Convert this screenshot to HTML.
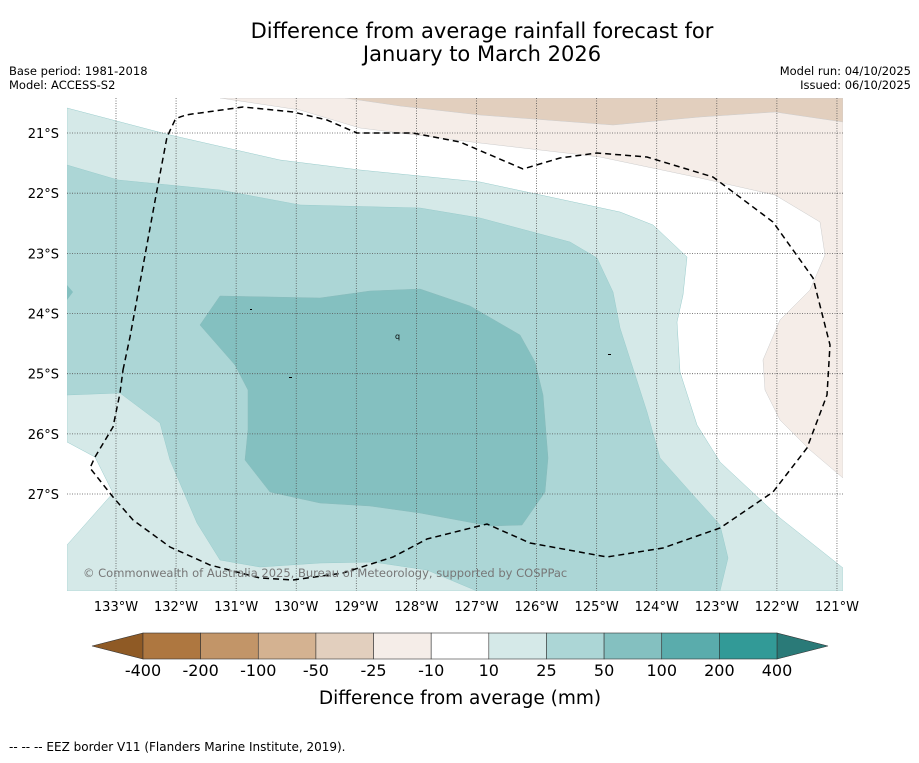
<!DOCTYPE html>
<html><head><meta charset="utf-8"><style>
body{margin:0;background:#fff;font-family:"Liberation Sans","DejaVu Sans",sans-serif;}
svg text{font-family:"DejaVu Sans","Liberation Sans",sans-serif;}
</style></head><body>
<svg id="s" width="919" height="758" viewBox="0 0 919 758">
<rect width="919" height="758" fill="#fff"/>
<text x="482" y="38" font-size="21" text-anchor="middle">Difference from average rainfall forecast for</text>
<text x="482" y="61" font-size="21" text-anchor="middle">January to March 2026</text>
<text x="9" y="75" font-size="11.5">Base period: 1981-2018</text>
<text x="9" y="89" font-size="11.5">Model: ACCESS-S2</text>
<text x="911" y="75" font-size="11.5" text-anchor="end">Model run: 04/10/2025</text>
<text x="911" y="89" font-size="11.5" text-anchor="end">Issued: 06/10/2025</text>
<defs><clipPath id="mc"><rect x="67" y="98" width="776" height="493"/></clipPath></defs>
<g id="map" clip-path="url(#mc)">
<rect x="67" y="98" width="776" height="493" fill="#fff"/>
<polygon fill="#f5ede8" stroke="#ccc" stroke-width="0.5" points="220,98 843,98 843,478 810,450 780,420 765,390 763,360 780,320 810,290 825,255 820,222 775,195 700,178 600,157 480,143 360,128 300,110"/>
<polygon fill="#e2cfbe" stroke="#ccc" stroke-width="0.5" points="345,98 843,98 843,122 775,112 700,117 613,125 480,115 400,106"/>
<polygon fill="#d5e9e8" stroke="#9cc" stroke-width="0.5" points="67,108 170,135 280,160 360,170 480,182 620,212 653,225 687,257 683,295 677,322 680,372 697,425 720,462 780,518 843,568 843,591 67,591 67,545 113,493 95,457 67,442"/>
<polygon fill="#acd6d6" stroke="#9cc" stroke-width="0.5" points="67,165 118,180 220,190 300,205 420,208 480,218 570,242 597,258 613,292 620,328 647,412 660,458 693,495 720,525 728,558 720,591 477,591 427,570 373,562 320,563 260,567 220,560 197,523 170,460 160,423 120,393 67,395"/>
<polygon fill="#84c0c0" stroke="#8bb" stroke-width="0.5" points="220,296 320,298 370,291 420,289 470,306 520,335 535,362 543,395 548,458 545,492 522,525 490,526 420,513 370,506 320,503 270,492 245,460 248,430 248,390 235,365 200,325"/>
<polygon fill="#84c0c0" points="67,285 73,292 67,300"/>
<g id="grid"></g>
<path fill="none" stroke="#000" stroke-width="1.5" stroke-dasharray="6,4" d="M123,370 L130,337 L157,190 L167,137 L175,120 Q180,115 200,113 L243,107 L293,112 L327,120 L357,133 L413,133 L460,142 L523,169 L560,158 L597,153 L647,157 L713,177 L773,222 L813,278 L830,345 L827,395 L807,448 L773,492 L720,528 L663,548 L607,557 L530,543 L487,524 L427,539 L393,557 L343,573 L293,580 L260,578 L210,565 L170,547 L133,520 L113,497 L90,468 L95,457 L113,427 L120,393 Z"/>
<text x="395" y="339" font-size="8">q</text>
<rect x="250" y="309" width="2" height="1" fill="#000"/>
<rect x="289" y="377" width="3" height="1" fill="#000"/>
<rect x="608" y="354" width="3" height="1" fill="#000"/>
<text x="83" y="577" font-size="11.5" fill="#777">© Commonwealth of Australia 2025, Bureau of Meteorology, supported by COSPPac</text>
</g>
<g id="ticks"></g>
<g id="cbar"></g>
<text x="460" y="704" font-size="18.5" text-anchor="middle">Difference from average (mm)</text>
<text x="9" y="751" font-size="12">--  --  -- EEZ border V11 (Flanders Marine Institute, 2019).</text>
</svg>
<script>
const lonTicks=[-133,-132,-131,-130,-129,-128,-127,-126,-125,-124,-123,-122,-121];
const latTicks=[-21,-22,-23,-24,-25,-26,-27];
const cbLevels=["-400","-200","-100","-50","-25","-10","10","25","50","100","200","400"];
const cbColors=["#ae7740","#c29568","#d4b291","#e2cfbe","#f5ede8","#ffffff","#d5e9e8","#acd6d6","#84c0c0","#5aacac","#329a97"];
const NS="http://www.w3.org/2000/svg";
function xs(lon){return 116+60.08*(lon+133);}
function ys(lat){return 133+60.17*(-21-lat);}
function mk(t,a,p){const e=document.createElementNS(NS,t);for(const k in a)e.setAttribute(k,a[k]);p.appendChild(e);return e;}
const grid=document.getElementById('grid'),ticks=document.getElementById('ticks'),cb=document.getElementById('cbar');
lonTicks.forEach(l=>{
 const ln=mk('line',{x1:xs(l),x2:xs(l),y1:98,y2:591,stroke:'#555','stroke-width':0.8,'stroke-dasharray':'1,1.5'},grid);
 
 
 const t=mk('text',{x:xs(l),y:611,'font-size':13,'text-anchor':'middle'},ticks);
 t.textContent=Math.abs(l)+'°W';
 
 
});
latTicks.forEach(l=>{
 const ln=mk('line',{x1:67,x2:843,y1:ys(l),y2:ys(l),stroke:'#555','stroke-width':0.8,'stroke-dasharray':'1,1.5'},grid);
 
 
 const t=mk('text',{x:59,y:ys(l)+5,'font-size':13,'text-anchor':'end'},ticks);
 t.textContent=Math.abs(l)+'°S';
 
 
});
const cx0=143,cx1=777,cy0=633,cy1=659,bw=(cx1-cx0)/cbColors.length;
const la=mk('polygon',{points:`${cx0},${cy0} ${cx0},${cy1} 92,646`,fill:'#8f5a25',stroke:'#333','stroke-width':0.6},cb);


const ra=mk('polygon',{points:`${cx1},${cy0} ${cx1},${cy1} 828,646`,fill:'#2a7a78',stroke:'#333','stroke-width':0.6},cb);


cbColors.forEach((c,i)=>{
 const r=mk('rect',{x:cx0+i*bw,y:cy0,width:bw,height:cy1-cy0,fill:c,stroke:'#333','stroke-width':0.6},cb);
 
 
});
cbLevels.forEach((v,i)=>{
 const t=mk('text',{x:cx0+i*bw,y:676,'font-size':16,'text-anchor':'middle'},cb);
 t.textContent=v;
 
 
});
</script>
</body></html>
